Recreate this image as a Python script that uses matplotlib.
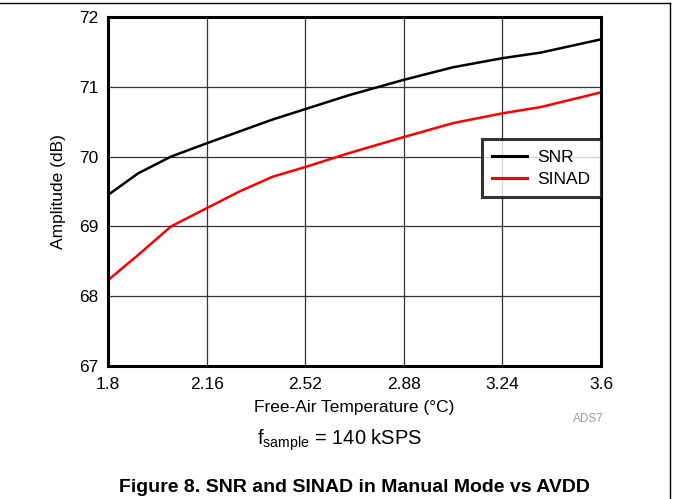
import matplotlib
matplotlib.use('Agg')
import matplotlib.pyplot as plt
from matplotlib.lines import Line2D

plt.rcParams['font.family'] = ['Liberation Sans', 'DejaVu Sans']

# Data
avdd = [1.8, 1.91, 2.03, 2.16, 2.28, 2.40, 2.52, 2.68, 2.88, 3.06, 3.24, 3.38, 3.6]
snr = [69.45, 69.76, 70.00, 70.19, 70.36, 70.53, 70.68, 70.88, 71.10, 71.28, 71.41, 71.49, 71.68]
sinad = [68.23, 68.59, 69.00, 69.26, 69.50, 69.71, 69.85, 70.05, 70.28, 70.48, 70.62, 70.71, 70.92]

x_ticks = [1.8, 2.16, 2.52, 2.88, 3.24, 3.6]
x_labels = ['1.8', '2.16', '2.52', '2.88', '3.24', '3.6']
y_ticks = [67, 68, 69, 70, 71, 72]

fig = plt.figure(figsize=(6.73, 4.99), dpi=100)
ax = fig.add_axes([108 / 673, 1 - 366 / 499, 493 / 673, 349 / 499])

ax.plot(avdd, snr, color='black', lw=1.8, label='SNR', solid_joinstyle='round')
ax.plot(avdd, sinad, color='#ff0000', lw=1.8, label='SINAD', solid_joinstyle='round')

ax.set_xlim(1.8, 3.6)
ax.set_ylim(67, 72)
ax.set_xticks(x_ticks)
ax.set_xticklabels(x_labels)
ax.set_yticks(y_ticks)
ax.tick_params(labelsize=12.5, length=0, colors='black')
ax.tick_params(axis='x', pad=8)
ax.tick_params(axis='y', pad=7)
ax.grid(True, color='#333333', lw=0.9)
for s in ax.spines.values():
    s.set_linewidth(2.2)

ax.set_xlabel('Free-Air Temperature (°C)', fontsize=12.5, labelpad=6)
ax.set_ylabel('Amplitude (dB)', fontsize=12.5, labelpad=9)

leg = ax.legend(loc='upper right', bbox_to_anchor=(1.0, 0.650), fontsize=12.5,
                frameon=True, fancybox=False, handlelength=2.0, handletextpad=0.6,
                borderpad=0.6, labelspacing=0.4, borderaxespad=0)
leg.get_frame().set_edgecolor('black')
leg.get_frame().set_linewidth(2.2)
for h in leg.get_lines():
    h.set_linewidth(2.2)

fig.text(604 / 673, 1 - 419 / 499, 'ADS7', fontsize=8.5, color='#999999', ha='right', va='center')
fig.text(340 / 673, 1 - 440 / 499, r'f$_{\mathregular{sample}}$ = 140 kSPS', fontsize=14.5,
         ha='center', va='center')
fig.text(354 / 673, 1 - 487 / 499, 'Figure 8. SNR and SINAD in Manual Mode vs AVDD',
         fontsize=14, fontweight='bold', ha='center', va='center')

# page frame lines
fig.add_artist(Line2D([0, 670 / 673], [1 - 3 / 499, 1 - 3 / 499], color='black', lw=1,
                      transform=fig.transFigure))
fig.add_artist(Line2D([670 / 673, 670 / 673], [1 - 3 / 499, 0], color='black', lw=1,
                      transform=fig.transFigure))

fig.savefig('out.png', dpi=100)
